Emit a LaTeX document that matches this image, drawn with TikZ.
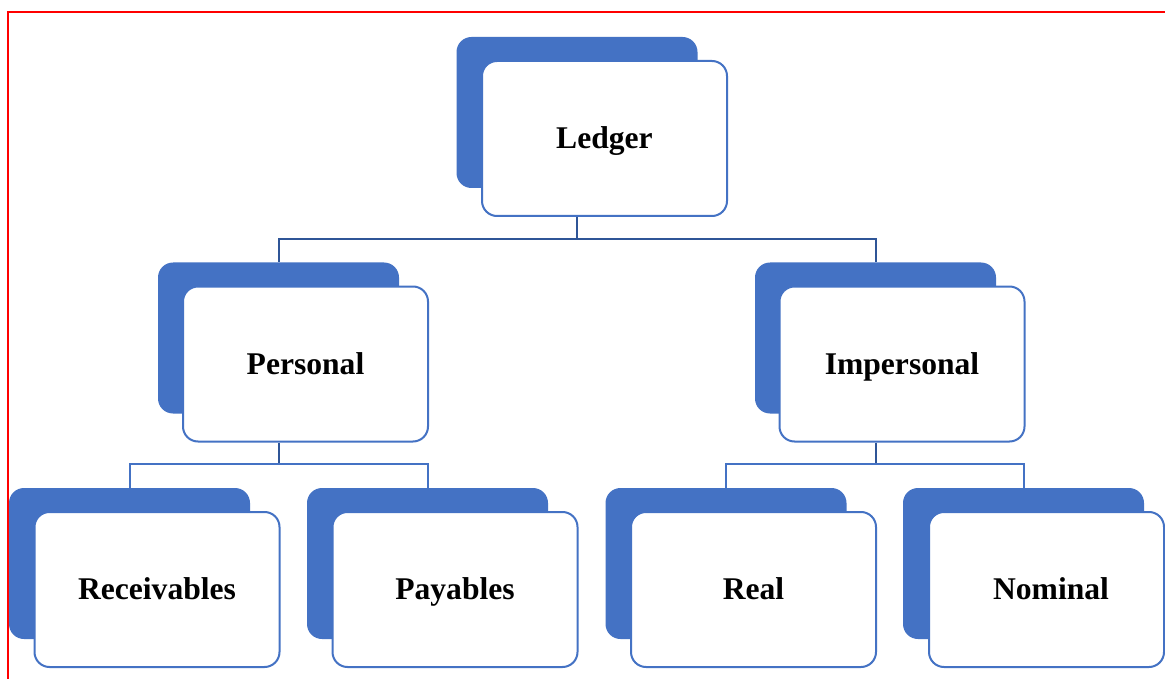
\documentclass[tikz,border=0pt]{standalone}
\usepackage{fontspec}
\setmainfont{Liberation Serif}
\begin{document}
\begin{tikzpicture}[x=1pt,y=-1pt,
  backbox/.style={fill=boxblue, rounded corners=15pt, inner sep=0pt, minimum width=241pt, minimum height=151pt},
  frontbox/.style={draw=boxblue, fill=white, line width=2pt, rounded corners=15pt, inner sep=0pt, minimum width=245pt, minimum height=155pt, text height=21pt, text depth=1pt, font=\fontsize{31.6}{38}\selectfont\bfseries},
  linkone/.style={draw=linkdark, line width=2pt},
  linktwo/.style={draw=boxblue, line width=2pt}]
\definecolor{boxblue}{HTML}{4472C4}
\definecolor{linkdark}{HTML}{2F5597}
\useasboundingbox (0,0) rectangle (1165,679);
\fill[white] (0,0) rectangle (1165,679);
% red frame lines
\draw[red, line width=2pt] (8,679) -- (8,12) -- (1165,12);
% level 1
\node[backbox] (ledgerback) at (577,112.5) {};
\node[frontbox] (ledger) at (604.5,138.5) {Ledger};
% level 2
\node[backbox] (personalback) at (278.5,338) {};
\node[frontbox] (personal) at (305.5,364) {Personal};
\node[backbox] (impersonalback) at (875.5,338) {};
\node[frontbox] (impersonal) at (902,364) {Impersonal};
% level 3
\node[backbox] (recback) at (129.5,563.5) {};
\node[frontbox] (rec) at (157,589.5) {Receivables};
\node[backbox] (payback) at (427.5,563.5) {};
\node[frontbox] (pay) at (455,589.5) {Payables};
\node[backbox] (realback) at (726,563.5) {};
\node[frontbox] (real) at (753.5,589.5) {Real};
\node[backbox] (nomback) at (1023.5,563.5) {};
\node[frontbox, minimum width=235pt] (nom) at (1046.5,589.5) {\hspace*{9pt}Nominal};
% connectors
\draw[linkone] (ledgerback |- ledger.south) -- ++(0,22) coordinate (j1);
\draw[linkone] (j1) -| (personalback.north);
\draw[linkone] (j1) -| (impersonalback.north);
\draw[linkone] (personalback |- personal.south) -- ++(0,21) coordinate (j2);
\draw[linktwo] (j2) -| (recback.north);
\draw[linktwo] (j2) -| (payback.north);
\draw[linkone] (impersonalback |- impersonal.south) -- ++(0,21) coordinate (j3);
\draw[linktwo] (j3) -| (realback.north);
\draw[linktwo] (j3) -| (nomback.north);
\end{tikzpicture}
\end{document}
